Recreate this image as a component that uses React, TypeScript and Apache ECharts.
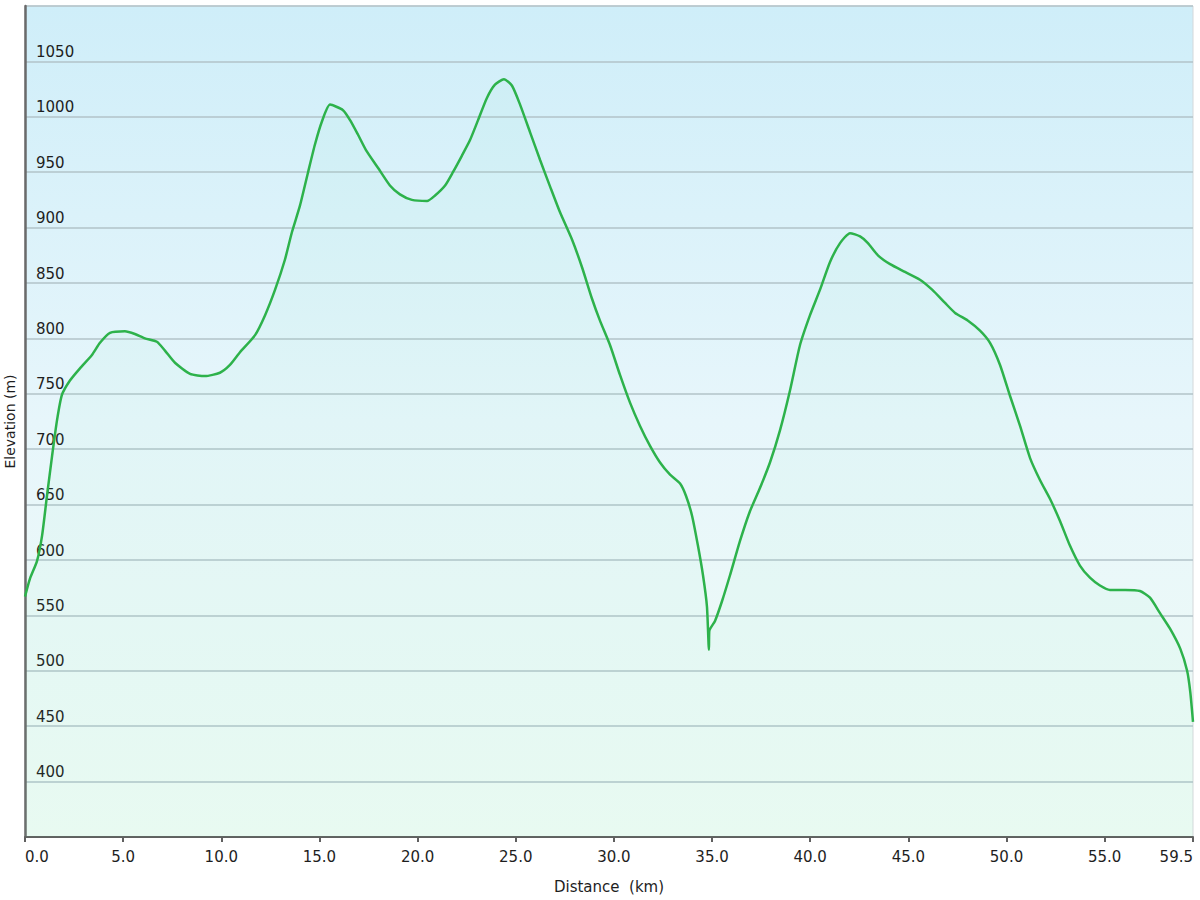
import React, { useEffect, useRef } from "react";
import * as echarts from "echarts";

const distanceKm: number[] = [
  0.0, 0.25, 0.61, 0.87, 1.12, 1.38, 1.63, 1.88, 2.29, 2.8, 3.41, 3.82, 4.33, 5.09, 5.6, 6.11, 6.72, 7.13, 7.64, 8.41,
  9.17, 9.93, 10.44, 10.95, 11.72, 12.23, 12.74, 13.24, 13.6, 14.01, 14.42, 14.77, 15.13, 15.54, 16.2, 16.56, 16.96,
  17.37, 17.98, 18.59, 19.1, 19.71, 20.48, 20.89, 21.4, 21.8, 22.26, 22.67, 23.08, 23.53, 23.94, 24.4, 24.81, 25.22,
  25.73, 26.24, 26.75, 27.25, 27.87, 28.38, 28.88, 29.29, 29.8, 30.31, 30.82, 31.33, 31.84, 32.35, 32.86, 33.37,
  33.67, 33.98, 34.28, 34.54, 34.74, 34.84, 34.86, 35.15, 35.51, 35.91, 36.42, 36.93, 37.44, 37.95, 38.46, 38.97,
  39.48, 39.99, 40.5, 41.01, 41.52, 42.03, 42.54, 42.94, 43.45, 44.07, 44.83, 45.59, 46.21, 46.87, 47.38, 48.04,
  48.65, 49.16, 49.67, 50.18, 50.69, 51.2, 51.71, 52.22, 52.73, 53.23, 53.74, 54.25, 54.76, 55.27, 56.04, 56.8,
  57.31, 57.82, 58.33, 58.85, 59.2, 59.36, 59.5,
];

const elevationM: number[] = [
  567, 583, 599, 622, 658, 694, 726, 749, 762, 773, 785, 796, 805, 806.5, 804, 800, 797, 789, 778, 768,
  766, 769, 776, 787.5, 803, 821, 844, 871, 896, 920, 950, 975, 996, 1011, 1006, 997, 984,
  970, 954, 938, 930, 925, 924, 929, 938, 950, 965, 979, 997, 1017, 1029, 1034, 1028, 1011,
  986, 961, 937, 914, 889, 864, 836, 816, 794, 767, 742, 721, 703, 688, 677, 669,
  658, 640, 613, 586, 558, 519, 536, 545, 563, 586, 617, 644, 665, 688, 717, 753,
  794, 821, 844, 869, 886, 895, 892, 886, 875, 867, 860, 853, 844, 832, 823, 816,
  807, 796, 776, 748, 721, 692, 672, 655, 635, 613, 595, 584, 577, 573, 573, 572,
  566, 552, 538, 520, 500, 481, 454,
];

const xAxisTitle = "Distance  (km)";
const yAxisTitle = "Elevation (m)";

export default function App() {
  const ref = useRef<HTMLDivElement>(null);

  useEffect(() => {
    if (!ref.current) return;
    const chart = echarts.init(ref.current, undefined, { renderer: "svg" });
    const points = distanceKm.map((d, i) => [d, elevationM[i]]);
    const textColor = "#1e1e1e";
    const font = "DejaVu Sans, Verdana, sans-serif";

    chart.setOption({
      animation: false,
      grid: {
        left: 25,
        right: 7,
        top: 6,
        bottom: 63,
        outerBoundsMode: "none",
        containLabel: false,
        show: true,
        borderColor: "#d4d8da",
        borderWidth: 1,
        backgroundColor: new echarts.graphic.LinearGradient(0, 0, 0, 1, [
          { offset: 0, color: "#cfeef9" },
          { offset: 0.5, color: "#e7f6fb" },
          { offset: 1, color: "#effbf5" },
        ]),
      },
      xAxis: {
        type: "value",
        min: 0,
        max: 59.5,
        interval: 5,
        name: xAxisTitle,
        nameLocation: "middle",
        nameGap: 42,
        nameTextStyle: { color: textColor, fontSize: 15, fontFamily: font },
        axisLine: { show: true, onZero: false, lineStyle: { color: "#606060", width: 2 } },
        axisTick: { show: true, length: 5, lineStyle: { color: "#606060", width: 2 } },
        axisLabel: {
          color: textColor,
          fontSize: 15,
          fontFamily: font,
          margin: 12,
          alignMinLabel: "left",
          alignMaxLabel: "right",
          formatter: (v: number) => v.toFixed(1),
        },
        splitLine: { show: false },
      },
      yAxis: {
        type: "value",
        min: 350,
        max: 1100,
        interval: 50,
        name: yAxisTitle,
        nameLocation: "middle",
        nameGap: 6,
        nameTextStyle: { color: textColor, fontSize: 14, fontFamily: font },
        axisLine: { show: true, lineStyle: { color: "#6a6a6a", width: 2.5 } },
        axisTick: { show: false },
        axisLabel: {
          inside: true,
          margin: 11,
          color: textColor,
          fontSize: 15,
          fontFamily: font,
          verticalAlign: "bottom",
          padding: [0, 0, 2, 0],
          showMinLabel: false,
          showMaxLabel: false,
          formatter: (v: number) => (v <= 350 || v >= 1100 ? "" : String(v)),
        },
        splitLine: { show: true, lineStyle: { color: "#b2c3c8", width: 1.5 } },
      },
      series: [
        {
          type: "line",
          data: points,
          smooth: 0.2,
          showSymbol: false,
          symbol: "none",
          lineStyle: { color: "#2db24b", width: 2.5 },
          areaStyle: { color: "rgba(110, 225, 160, 0.07)", origin: "start" },
          z: 3,
        },
      ],
    });

    return () => chart.dispose();
  }, []);

  return (
    <div
      ref={ref}
      style={{ position: "absolute", left: 0, top: 0, width: 1200, height: 900 }}
    />
  );
}
